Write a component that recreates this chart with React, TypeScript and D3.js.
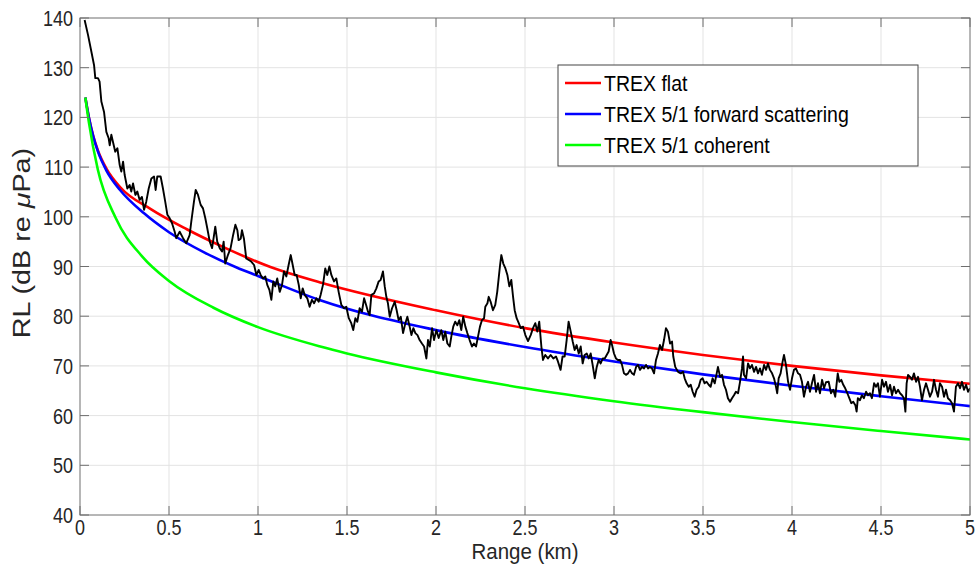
import React, { useEffect, useRef } from "react";
import * as d3 from "d3";

// model curves (knots)
const flatRange = [0.03, 0.05, 0.075, 0.1, 0.15, 0.225, 0.4, 0.6, 0.8, 1.07, 1.35, 2.0, 2.5, 3.0, 3.5, 4.0, 4.5, 5.0];
const flatRL = [124, 120, 116.2, 113.4, 109.6, 106, 101.5, 97.5, 94.0, 89.9, 86.8, 81.2, 77.6, 74.7, 72.2, 70.0, 68.1, 66.4];

const fwdRange = [0.03, 0.05, 0.075, 0.1, 0.15, 0.225, 0.36, 0.5, 0.7, 0.88, 1.0, 1.35, 2.0, 2.5, 3.0, 3.5, 4.0, 4.5, 5.0];
const fwdRL = [124, 120, 116.1, 113.2, 109.2, 105.4, 100.7, 96.9, 92.8, 89.8, 88.1, 83.2, 77.2, 73.8, 70.9, 68.3, 66.0, 63.9, 61.9];

const cohRange = [0.03, 0.05, 0.1, 0.2, 0.35, 0.5, 0.75, 1.0, 1.35, 1.5, 2.0, 2.5, 3.0, 3.5, 4.0, 4.5, 5.0];
const cohRL = [124, 119, 109.5, 99.8, 92, 87.1, 81.7, 77.8, 73.9, 72.5, 68.7, 65.5, 62.9, 60.7, 58.7, 56.9, 55.2];

// measured received level (black trace)
const measRange = [
  0.026, 0.045, 0.064, 0.079, 0.086, 0.101, 0.11, 0.12, 0.135, 0.148, 0.161, 0.167, 0.176, 0.185, 0.198, 0.21,
  0.223, 0.232, 0.242, 0.251, 0.266, 0.279, 0.288, 0.298, 0.311, 0.322, 0.335, 0.348, 0.36, 0.372, 0.386, 0.401,
  0.416, 0.425, 0.434, 0.453, 0.466, 0.479, 0.491, 0.504, 0.517, 0.532, 0.541, 0.56, 0.579, 0.597, 0.616, 0.625,
  0.64, 0.65, 0.663, 0.678, 0.691, 0.704, 0.715, 0.729, 0.742, 0.753, 0.76, 0.771, 0.785, 0.798, 0.807, 0.816,
  0.831, 0.846, 0.86, 0.873, 0.884, 0.891, 0.903, 0.91, 0.921, 0.934, 0.948, 0.962, 0.978, 0.991, 1.004, 1.015,
  1.028, 1.041, 1.052, 1.064, 1.075, 1.086, 1.097, 1.108, 1.122, 1.135, 1.146, 1.159, 1.172, 1.184, 1.195, 1.206,
  1.217, 1.229, 1.24, 1.251, 1.262, 1.277, 1.29, 1.303, 1.315, 1.328, 1.341, 1.352, 1.365, 1.378, 1.389, 1.401,
  1.412, 1.427, 1.44, 1.453, 1.468, 1.483, 1.496, 1.51, 1.524, 1.535, 1.547, 1.558, 1.571, 1.584, 1.596, 1.607,
  1.618, 1.627, 1.637, 1.652, 1.665, 1.678, 1.689, 1.702, 1.712, 1.721, 1.73, 1.74, 1.753, 1.768, 1.779, 1.79,
  1.802, 1.815, 1.828, 1.839, 1.852, 1.862, 1.873, 1.884, 1.896, 1.908, 1.921, 1.933, 1.946, 1.955, 1.965, 1.978,
  1.989, 2.002, 2.015, 2.03, 2.041, 2.052, 2.064, 2.077, 2.086, 2.097, 2.108, 2.12, 2.131, 2.142, 2.153, 2.165,
  2.176, 2.189, 2.202, 2.213, 2.225, 2.236, 2.247, 2.258, 2.27, 2.277, 2.289, 2.296, 2.307, 2.32, 2.333, 2.344,
  2.352, 2.36, 2.367, 2.378, 2.39, 2.401, 2.412, 2.423, 2.433, 2.442, 2.453, 2.465, 2.476, 2.489, 2.502, 2.517,
  2.532, 2.545, 2.558, 2.569, 2.58, 2.592, 2.601, 2.614, 2.629, 2.644, 2.659, 2.674, 2.685, 2.7, 2.711, 2.723,
  2.734, 2.745, 2.757, 2.768, 2.779, 2.79, 2.802, 2.813, 2.824, 2.835, 2.847, 2.858, 2.869, 2.88, 2.892, 2.903,
  2.914, 2.925, 2.937, 2.948, 2.959, 2.97, 2.981, 2.989, 3.0, 3.011, 3.022, 3.034, 3.045, 3.056, 3.067, 3.079,
  3.09, 3.101, 3.112, 3.124, 3.135, 3.146, 3.157, 3.169, 3.18, 3.191, 3.202, 3.213, 3.225, 3.236, 3.247, 3.258,
  3.27, 3.281, 3.292, 3.303, 3.315, 3.326, 3.333, 3.344, 3.36, 3.375, 3.388, 3.397, 3.408, 3.42, 3.431, 3.442,
  3.453, 3.464, 3.476, 3.487, 3.498, 3.509, 3.52, 3.532, 3.543, 3.554, 3.566, 3.577, 3.584, 3.596, 3.607, 3.618,
  3.629, 3.64, 3.652, 3.663, 3.674, 3.685, 3.697, 3.708, 3.719, 3.725, 3.73, 3.742, 3.753, 3.764, 3.775, 3.787,
  3.798, 3.809, 3.82, 3.831, 3.843, 3.854, 3.865, 3.876, 3.888, 3.899, 3.91, 3.917, 3.925, 3.936, 3.947, 3.955,
  3.966, 3.978, 3.989, 4.0, 4.011, 4.022, 4.034, 4.045, 4.056, 4.067, 4.079, 4.09, 4.101, 4.112, 4.124, 4.135,
  4.146, 4.157, 4.169, 4.18, 4.191, 4.206, 4.219, 4.232, 4.243, 4.257, 4.266, 4.277, 4.288, 4.299, 4.311, 4.322,
  4.333, 4.344, 4.356, 4.363, 4.37, 4.382, 4.393, 4.404, 4.416, 4.427, 4.438, 4.449, 4.461, 4.472, 4.483, 4.494,
  4.506, 4.517, 4.528, 4.539, 4.551, 4.562, 4.573, 4.584, 4.596, 4.607, 4.618, 4.629, 4.637, 4.644, 4.652, 4.663,
  4.674, 4.685, 4.697, 4.708, 4.719, 4.73, 4.742, 4.753, 4.764, 4.775, 4.787, 4.798, 4.809, 4.82, 4.831, 4.843,
  4.854, 4.865, 4.876, 4.888, 4.899, 4.91, 4.921, 4.933, 4.944, 4.955, 4.966, 4.978, 4.989, 5.0,
];
const measRL = [
  139.6, 136.6, 133.2, 130.5, 127.9, 127.9, 127.2, 123.2, 121.1, 117.1, 115.8, 114.4, 116.5, 115.1, 113.1, 113.8,
  110.4, 109.1, 111.1, 108.4, 105.7, 106.4, 105.1, 106.7, 104.4, 105.1, 103.4, 104.0, 101.4, 103.0, 105.7, 107.7,
  108.1, 105.4, 108.1, 108.1, 105.7, 103.0, 100.4, 99.7, 98.7, 97.0, 95.7, 97.0, 95.7, 94.7, 96.3, 99.0,
  103.0, 105.4, 104.4, 102.4, 101.7, 99.7, 97.7, 95.0, 93.7, 96.3, 98.0, 95.0, 93.7, 93.0, 95.0, 90.6,
  92.3, 93.7, 96.3, 98.4, 97.3, 95.3, 95.6, 97.3, 95.6, 91.6, 91.3, 91.0, 90.3, 88.3, 89.3, 88.3,
  87.6, 88.0, 86.3, 85.3, 83.3, 87.0, 86.0, 87.6, 84.9, 86.3, 89.0, 88.0, 90.3, 92.3, 90.3, 88.3,
  88.3, 86.3, 83.6, 85.6, 84.3, 83.6, 81.9, 83.3, 82.6, 83.6, 82.9, 84.3, 86.3, 89.6, 88.3, 90.0,
  88.3, 87.0, 87.6, 84.9, 82.3, 81.6, 81.9, 79.6, 78.6, 77.2, 79.6, 78.9, 81.6, 80.9, 83.6, 82.3,
  80.9, 80.2, 84.3, 84.6, 85.6, 87.0, 87.3, 89.0, 86.0, 83.9, 82.6, 79.9, 81.6, 82.9, 81.2, 79.2,
  79.9, 76.6, 78.6, 79.9, 77.9, 76.2, 77.6, 76.6, 76.2, 75.2, 74.5, 73.9, 71.5, 75.2, 73.9, 77.6,
  75.2, 77.2, 75.6, 77.2, 75.2, 76.9, 74.5, 73.9, 75.9, 77.9, 78.9, 78.2, 79.2, 77.2, 79.9, 77.9,
  76.6, 75.2, 73.9, 74.5, 73.9, 75.9, 77.9, 79.2, 79.6, 81.9, 82.6, 83.9, 82.9, 81.2, 82.3, 84.9,
  87.6, 90.3, 92.3, 90.6, 89.6, 88.3, 86.0, 87.3, 83.9, 81.2, 79.6, 78.6, 77.6, 77.9, 76.2, 75.0,
  76.2, 77.6, 78.6, 76.9, 78.9, 73.9, 71.2, 72.2, 71.5, 72.2, 71.5, 71.9, 70.9, 69.2, 71.9, 71.9,
  75.2, 78.9, 76.9, 74.9, 73.2, 74.2, 72.5, 73.9, 70.5, 72.2, 72.5, 71.5, 72.5, 70.2, 67.5, 69.8,
  71.2, 70.5, 71.5, 71.5, 72.2, 72.9, 75.2, 74.2, 72.5, 71.5, 71.2, 71.2, 70.2, 68.5, 68.2, 68.5,
  69.2, 68.5, 68.2, 69.8, 70.2, 69.2, 69.8, 69.5, 70.2, 69.5, 69.8, 69.5, 68.5, 71.2, 72.5, 74.2,
  73.2, 75.2, 77.6, 76.9, 74.5, 74.9, 71.9, 69.8, 68.8, 68.5, 68.8, 67.5, 66.5, 65.8, 66.2, 64.8,
  63.8, 65.2, 65.8, 67.2, 67.5, 66.5, 66.8, 66.2, 65.8, 67.5, 66.5, 68.5, 69.8, 67.8, 68.2, 66.2,
  65.2, 63.5, 62.8, 63.5, 64.1, 64.8, 64.5, 66.8, 69.5, 71.9, 68.2, 67.5, 70.5, 69.5, 70.2, 68.8,
  69.8, 68.5, 69.5, 68.2, 70.2, 69.2, 70.5, 69.2, 68.5, 67.5, 65.8, 64.5, 67.5, 68.5, 70.8, 72.2,
  70.2, 66.8, 65.2, 67.5, 69.2, 69.5, 68.5, 68.2, 66.8, 63.8, 65.8, 66.8, 64.8, 66.5, 68.2, 64.8,
  66.5, 64.5, 67.2, 65.5, 66.7, 66.8, 64.5, 65.2, 63.8, 68.5, 66.8, 67.2, 66.2, 65.5, 64.5, 63.5,
  62.5, 62.8, 62.1, 60.8, 63.5, 63.1, 64.1, 63.5, 64.8, 64.1, 64.5, 63.5, 66.5, 65.8, 66.5, 63.8,
  67.2, 65.8, 66.8, 64.8, 66.2, 64.1, 65.8, 64.5, 65.2, 64.5, 64.1, 63.5, 60.8, 66.5, 68.2, 67.8,
  67.2, 68.5, 66.8, 67.8, 65.8, 63.1, 65.2, 66.5, 65.2, 63.8, 64.8, 67.2, 65.2, 63.8, 66.5, 65.8,
  63.8, 65.2, 63.5, 63.1, 62.5, 60.8, 65.8, 66.5, 65.5, 66.8, 65.2, 66.2, 64.8, 65.5,
];

const xTicks = [0, 0.5, 1, 1.5, 2, 2.5, 3, 3.5, 4, 4.5, 5];
const yTicks = [40, 50, 60, 70, 80, 90, 100, 110, 120, 130, 140];

const legendItems = [
  { label: "TREX flat", color: "#ff0000" },
  { label: "TREX 5/1 forward scattering", color: "#0000ff" },
  { label: "TREX 5/1 coherent", color: "#00ff00" },
];

const W = 977;
const H = 566;
const FONT = "'Liberation Sans', Arial, Helvetica, sans-serif";
const STRETCH = 1.25; // the source picture is a bit taller than wide

const App = () => {
  const ref = useRef<SVGSVGElement | null>(null);

  useEffect(() => {
    document.body.style.margin = "0";
    if (!ref.current) return;
    const svg = d3.select(ref.current);
    svg.selectAll("*").remove();

    const margin = { top: 18, right: 7, bottom: 51, left: 80 };
    const x = d3.scaleLinear().domain([0, 5]).range([margin.left, W - margin.right]);
    const y = d3.scaleLinear().domain([40, 140]).range([H - margin.bottom, margin.top]);
    const [x0, x1] = x.range();
    const [y0, y1] = y.range();

    svg.append("rect").attr("width", W).attr("height", H).attr("fill", "#fff");

    // grid
    const grid = svg.append("g").attr("stroke", "#e3e3e3").attr("stroke-width", 1);
    xTicks.slice(1, -1).forEach((t) =>
      grid.append("line").attr("x1", x(t)).attr("x2", x(t)).attr("y1", y0).attr("y2", y1)
    );
    yTicks.slice(1, -1).forEach((t) =>
      grid.append("line").attr("x1", x0).attr("x2", x1).attr("y1", y(t)).attr("y2", y(t))
    );

    svg
      .append("defs")
      .append("clipPath")
      .attr("id", "plotclip")
      .append("rect")
      .attr("x", x0)
      .attr("y", y1)
      .attr("width", x1 - x0)
      .attr("height", y0 - y1);

    const plot = svg.append("g").attr("clip-path", "url(#plotclip)");

    const smooth = d3
      .line<[number, number]>()
      .x((d) => x(d[0]))
      .y((d) => y(d[1]))
      .curve(d3.curveMonotoneX);

    const models = [
      { xs: flatRange, ys: flatRL, color: "#ff0000" },
      { xs: fwdRange, ys: fwdRL, color: "#0000ff" },
      { xs: cohRange, ys: cohRL, color: "#00ff00" },
    ];
    models.forEach((m) => {
      plot
        .append("path")
        .datum(m.xs.map((v, i) => [v, m.ys[i]] as [number, number]))
        .attr("fill", "none")
        .attr("stroke", m.color)
        .attr("stroke-width", 2.6)
        .attr("d", smooth);
    });

    const raw = d3
      .line<[number, number]>()
      .x((d) => x(d[0]))
      .y((d) => y(d[1]));
    plot
      .append("path")
      .datum(measRange.map((v, i) => [v, measRL[i]] as [number, number]))
      .attr("fill", "none")
      .attr("stroke", "#000")
      .attr("stroke-width", 1.9)
      .attr("stroke-linejoin", "round")
      .attr("d", raw);

    // axes box with inward ticks
    const axisColor = "#6e6e6e";
    const tl = 9;
    const ax = svg.append("g").attr("stroke", axisColor).attr("stroke-width", 1);
    ax.append("rect")
      .attr("x", x0)
      .attr("y", y1)
      .attr("width", x1 - x0)
      .attr("height", y0 - y1)
      .attr("fill", "none");
    xTicks.forEach((t) => {
      ax.append("line").attr("x1", x(t)).attr("x2", x(t)).attr("y1", y0).attr("y2", y0 - tl);
      ax.append("line").attr("x1", x(t)).attr("x2", x(t)).attr("y1", y1).attr("y2", y1 + tl);
    });
    yTicks.forEach((t) => {
      ax.append("line").attr("x1", x0).attr("x2", x0 + tl).attr("y1", y(t)).attr("y2", y(t));
      ax.append("line").attr("x1", x1).attr("x2", x1 - tl).attr("y1", y(t)).attr("y2", y(t));
    });

    const labels = svg.append("g").attr("fill", "#262626").style("font-family", FONT);
    const putText = (px: number, py: number, txt: string, size: number, anchor: string, sy: number) =>
      labels
        .append("text")
        .attr("transform", `translate(${px},${py}) scale(1,${sy})`)
        .attr("text-anchor", anchor)
        .style("font-size", `${size}px`)
        .text(txt);

    xTicks.forEach((t) => putText(x(t), y0 + 20, d3.format("~g")(t), 18, "middle", STRETCH));
    yTicks.forEach((t) => putText(x0 - 7, y(t) + 8, String(t), 18, "end", STRETCH));

    putText((x0 + x1) / 2, H - 7, "Range (km)", 20.5, "middle", 1.05);

    const yl = labels
      .append("text")
      .attr("transform", `translate(30,243) rotate(-90) scale(${STRETCH},1)`)
      .attr("text-anchor", "middle")
      .style("font-size", "23px");
    yl.append("tspan").text("RL (dB re ");
    yl.append("tspan").style("font-style", "italic").text("\u03bc");
    yl.append("tspan").text("Pa)");

    // legend
    const lg = svg.append("g").attr("transform", "translate(558,65)");
    lg.append("rect")
      .attr("width", 360)
      .attr("height", 101)
      .attr("fill", "#fff")
      .attr("stroke", "#444")
      .attr("stroke-width", 1);
    legendItems.forEach((item, i) => {
      const cy = 18 + i * 31;
      lg.append("line")
        .attr("x1", 7)
        .attr("x2", 43)
        .attr("y1", cy)
        .attr("y2", cy)
        .attr("stroke", item.color)
        .attr("stroke-width", 2.6);
      lg.append("text")
        .attr("transform", `translate(46,${cy + 8}) scale(1,1.1)`)
        .style("font-family", FONT)
        .style("font-size", "19.5px")
        .attr("fill", "#000")
        .text(item.label);
    });
  }, []);

  return <svg ref={ref} width={W} height={H} style={{ display: "block" }} />;
};

export default App;
